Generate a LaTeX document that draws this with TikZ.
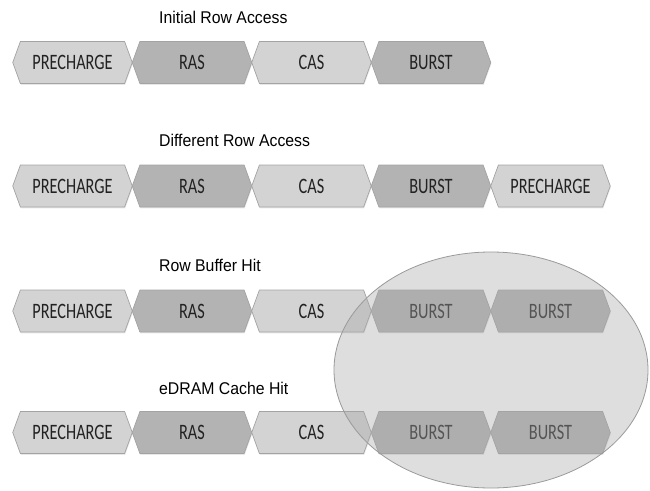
\documentclass[tikz,border=0pt]{standalone}
\usepackage{fontspec}
\setmainfont{Liberation Sans}
\newfontfamily\hexfont[FakeStretch=0.74]{Carlito}
\newfontfamily\titlefont[FakeStretch=0.93]{Liberation Sans}
\usetikzlibrary{shapes.symbols,shapes.geometric,shadows}
\definecolor{hexlight}{HTML}{D3D3D3}
\definecolor{hexdark}{HTML}{B3B3B3}
\definecolor{hexborder}{HTML}{A3A3A3}
\definecolor{hextext}{HTML}{222222}
\definecolor{ellfill}{HTML}{A8A8A8}
\definecolor{ellborder}{HTML}{9A9A9A}
\tikzset{
  hexbox/.style={shape=signal, signal to=east and west, signal pointer angle=140,
    minimum width=119.5pt, minimum height=42pt, inner sep=0pt, outer sep=0pt,
    draw=hexborder, line width=0.7pt, text=hextext,
    font=\hexfont\fontsize{22}{24}\selectfont,
    drop shadow={opacity=0.18, shadow xshift=0.6pt, shadow yshift=-1.4pt}},
  light/.style={hexbox, fill=hexlight},
  dark/.style={hexbox, fill=hexdark},
  rowtitle/.style={anchor=west, inner sep=0pt, text=black,
    font=\titlefont\fontsize{17}{19}\selectfont},
  hilite/.style={shape=ellipse, minimum width=314pt, minimum height=236pt,
    inner sep=0pt, draw=ellborder, line width=0.8pt, fill=ellfill, fill opacity=0.38}
}
\begin{document}
\begin{tikzpicture}[x=1pt,y=-1pt]
\useasboundingbox (0,0) rectangle (650,490);
% Row 1
\node[rowtitle] (t1) at (159,17) {Initial Row Access};
\node[light] (a1) at (72.5,62.5) {PRECHARGE};
\node[dark]  (a2) at (192,62.5) {RAS};
\node[light] (a3) at (311.5,62.5) {CAS};
\node[dark]  (a4) at (431,62.5) {BURST};
% Row 2
\node[rowtitle] (t2) at (159,140) {Different Row Access};
\node[light] (b1) at (72.5,186) {PRECHARGE};
\node[dark]  (b2) at (192,186) {RAS};
\node[light] (b3) at (311.5,186) {CAS};
\node[dark]  (b4) at (431,186) {BURST};
\node[light] (b5) at (550.5,186) {PRECHARGE};
% Row 3
\node[rowtitle] (t3) at (159,265) {Row Buffer Hit};
\node[light] (c1) at (72.5,311) {PRECHARGE};
\node[dark]  (c2) at (192,311) {RAS};
\node[light] (c3) at (311.5,311) {CAS};
\node[dark]  (c4) at (431,311) {BURST};
\node[dark]  (c5) at (550.5,311) {BURST};
% Row 4
\node[rowtitle] (t4) at (159,388) {eDRAM Cache Hit};
\node[light] (d1) at (72.5,432.5) {PRECHARGE};
\node[dark]  (d2) at (192,432.5) {RAS};
\node[light] (d3) at (311.5,432.5) {CAS};
\node[dark]  (d4) at (431,432.5) {BURST};
\node[dark]  (d5) at (550.5,432.5) {BURST};
% Highlight ellipse
\node[hilite] (hl) at (491,370) {};
\end{tikzpicture}
\end{document}
